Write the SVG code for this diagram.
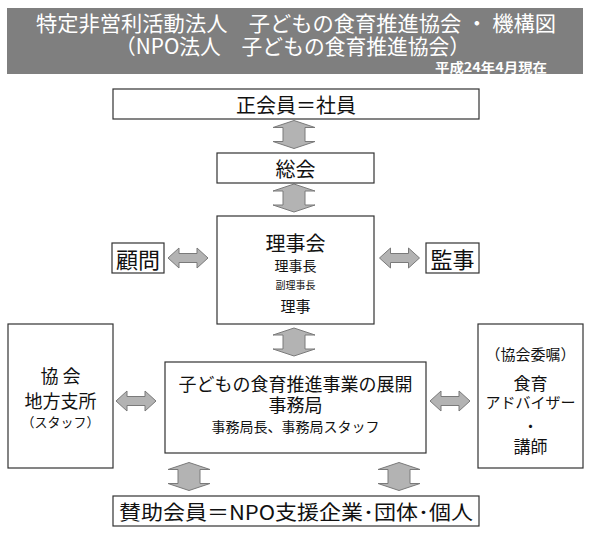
<svg xmlns="http://www.w3.org/2000/svg" xmlns:xlink="http://www.w3.org/1999/xlink" width="590" height="536" viewBox="0 0 590 536">
<style>
.box{fill:#fff;stroke:#333;stroke-width:1.2}
.t{font-family:"Noto Sans CJK JP","Noto Sans",sans-serif;fill:#111;text-anchor:middle;dominant-baseline:central}
.h{font-family:"Noto Sans CJK JP","Noto Sans",sans-serif;fill:#fff;text-anchor:middle;dominant-baseline:central}
.arr{fill:#b3b3b3;stroke:#7a7a7a;stroke-width:1}
</style>
<defs>
<path id="va" class="arr" d="M0,-14 L21,-7 L11,-7 L11,7 L21,7 L0,14 L-21,7 L-11,7 L-11,-7 L-21,-7 Z"/>
<path id="ha" class="arr" d="M-20,0 L-9,-10 L-9,-4.5 L9,-4.5 L9,-10 L20,0 L9,10 L9,4.5 L-9,4.5 L-9,10 Z"/>
</defs>
<rect width="590" height="536" fill="#fff"/>
<g id="header">
<rect x="7" y="8" width="576" height="66" fill="#7f7f7f"/>
<text class="h" x="296" y="22" font-size="21" textLength="520" lengthAdjust="spacingAndGlyphs">特定非営利活動法人　子どもの食育推進協会 ・ 機構図</text>
<text class="h" x="292.5" y="45" font-size="21" textLength="355" lengthAdjust="spacingAndGlyphs">（NPO法人　子どもの食育推進協会）</text>
<text class="h" x="491" y="66" font-size="13" font-weight="bold" textLength="112" lengthAdjust="spacingAndGlyphs">平成24年4月現在</text>
</g>
<g id="connectors">
<use xlink:href="#va" x="294" y="134.5"/>
<use xlink:href="#va" x="294" y="198"/>
<use xlink:href="#va" x="294" y="342"/>
<use xlink:href="#va" x="189" y="476.5"/>
<use xlink:href="#va" x="399" y="476.5"/>
<use xlink:href="#ha" x="188" y="258"/>
<use xlink:href="#ha" x="399.5" y="258"/>
<use xlink:href="#ha" x="136" y="401"/>
<use xlink:href="#ha" x="450" y="401"/>
</g>
<g id="seikaiin">
<rect class="box" x="113" y="89" width="366" height="30"/>
<text class="t" x="296" y="104" font-size="20">正会員＝社員</text>
</g>
<g id="soukai">
<rect class="box" x="217" y="153" width="157" height="30"/>
<text class="t" x="295.5" y="168" font-size="20">総会</text>
</g>
<g id="rijikai">
<rect class="box" x="217" y="216" width="157" height="108"/>
<text class="t" x="295.5" y="242" font-size="20">理事会</text>
<text class="t" x="295.5" y="265" font-size="14">理事長</text>
<text class="t" x="295.5" y="284" font-size="10">副理事長</text>
<text class="t" x="295.5" y="305" font-size="15">理事</text>
</g>
<g id="komon">
<rect class="box" x="112" y="243" width="52" height="30"/>
<text class="t" x="138" y="258" font-size="22">顧問</text>
</g>
<g id="kanji">
<rect class="box" x="426" y="243" width="53" height="30"/>
<text class="t" x="452.5" y="258" font-size="22">監事</text>
</g>
<g id="shisho">
<rect class="box" x="8" y="324" width="105" height="144"/>
<text class="t" x="60.5" y="375" font-size="18">協 会</text>
<text class="t" x="60.5" y="400" font-size="18">地方支所</text>
<text class="t" x="60.5" y="421" font-size="13">（スタッフ）</text>
</g>
<g id="jimukyoku">
<rect class="box" x="165" y="362" width="261" height="91"/>
<text class="t" x="295.5" y="383" font-size="18">子どもの食育推進事業の展開</text>
<text class="t" x="295.5" y="404" font-size="18">事務局</text>
<text class="t" x="295.5" y="426" font-size="14">事務局長、事務局スタッフ</text>
</g>
<g id="adviser">
<rect class="box" x="478" y="324" width="105" height="144"/>
<text class="t" x="530.5" y="353" font-size="15">（協会委嘱）</text>
<text class="t" x="530.5" y="382" font-size="17">食育</text>
<text class="t" x="530.5" y="401" font-size="15">アドバイザー</text>
<text class="t" x="530.5" y="425" font-size="15">・</text>
<text class="t" x="530.5" y="445" font-size="17">講師</text>
</g>
<g id="sanjo">
<rect class="box" x="113" y="496" width="366" height="30"/>
<text class="t" x="296" y="511" font-size="20" textLength="354" lengthAdjust="spacingAndGlyphs">賛助会員＝NPO支援企業･団体･個人</text>
</g>
</svg>
